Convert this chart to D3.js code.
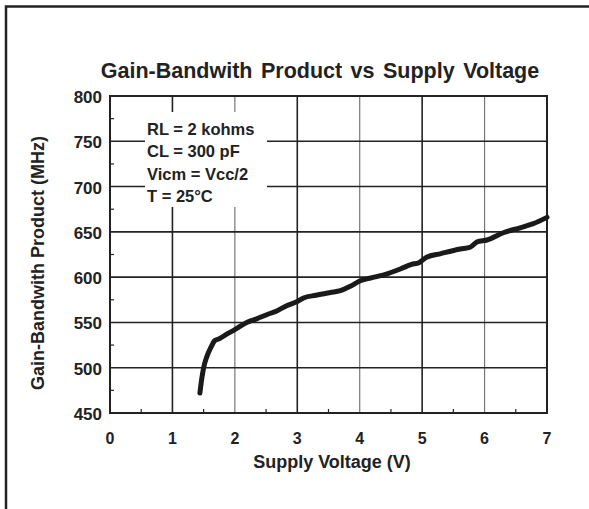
<!DOCTYPE html>
<html>
<head>
<meta charset="UTF-8">
<script src="https://cdn.jsdelivr.net/npm/d3@7"></script>
<style>
  body { margin: 0; background: #fff; }
  text { font-family: "Liberation Sans", Arial, sans-serif; font-weight: bold; fill: #222; }
</style>
</head>
<body>
<script>
// data
var voltage = [1.44, 1.47, 1.50, 1.55, 1.62, 1.68, 1.75, 1.87, 2.00, 2.19, 2.35, 2.51, 2.68, 2.83, 3.00, 3.10, 3.30, 3.53, 3.69, 3.85, 4.01, 4.27, 4.45, 4.65, 4.83, 4.95, 5.07, 5.30, 5.61, 5.77, 5.88, 6.04, 6.30, 6.57, 6.78, 7.00];
var gbw     = [472, 488, 500, 512, 523, 530, 532, 537, 542, 550, 554, 558.5, 563, 568.5, 573, 577, 580, 583, 585, 590, 596, 600.5, 604, 609, 614, 616, 622, 626, 631, 633, 639, 641, 649, 654.5, 659, 666];
var xTicks = [0, 1, 2, 3, 4, 5, 6, 7];
var yTicks = [450, 500, 550, 600, 650, 700, 750, 800];
var notes = ["RL = 2 kohms", "CL = 300 pF", "Vicm = Vcc/2", "T = 25\u00B0C"];

var W = 589, H = 509;
var pLeft = 110, pRight = 547, pTop = 96, pBottom = 413;

var svg = d3.select("body").append("svg")
    .attr("width", W)
    .attr("height", H);

// outer frame (left and top only visible)
svg.append("path")
    .attr("d", "M6," + H + "V6.5H" + W)
    .attr("fill", "none").attr("stroke", "#222").attr("stroke-width", 2.5);

var x = d3.scaleLinear().domain([0, 7]).range([pLeft, pRight]);
var y = d3.scaleLinear().domain([450, 800]).range([pBottom, pTop]);

// grid
svg.append("g").selectAll("line")
    .data(xTicks.slice(1))
    .enter().append("line")
    .attr("x1", function(d) { return x(d); })
    .attr("x2", function(d) { return x(d); })
    .attr("y1", pTop).attr("y2", pBottom)
    .attr("stroke", function(d) { return d % 2 == 0 ? "#777" : "#222"; })
    .attr("stroke-width", function(d) { return d % 2 == 0 ? 1.2 : 1.6; });

svg.append("g").selectAll("line")
    .data(yTicks.slice(1))
    .enter().append("line")
    .attr("x1", pLeft).attr("x2", pRight)
    .attr("y1", function(d) { return y(d); })
    .attr("y2", function(d) { return y(d); })
    .attr("stroke", "#222").attr("stroke-width", 1.6);

// minor ticks
var minorX = d3.range(0.5, 7, 1);
svg.append("g").selectAll("line")
    .data(minorX).enter().append("line")
    .attr("x1", function(d) { return x(d); })
    .attr("x2", function(d) { return x(d); })
    .attr("y1", pBottom).attr("y2", pBottom - 4)
    .attr("stroke", "#222").attr("stroke-width", 1.2);
var minorY = d3.range(475, 800, 50);
svg.append("g").selectAll("line")
    .data(minorY).enter().append("line")
    .attr("x1", pLeft).attr("x2", pLeft + 4)
    .attr("y1", function(d) { return y(d); })
    .attr("y2", function(d) { return y(d); })
    .attr("stroke", "#222").attr("stroke-width", 1.2);

// plot border
svg.append("path")
    .attr("d", "M" + pLeft + "," + pTop + "V" + pBottom + "H" + pRight + "V" + pTop + "Z")
    .attr("fill", "none").attr("stroke", "#222").attr("stroke-width", 2);

// conditions box
svg.append("rect")
    .attr("x", 145).attr("y", 112).attr("width", 122).attr("height", 95)
    .attr("fill", "#fff");
svg.append("g").selectAll("text")
    .data(notes).enter().append("text")
    .attr("x", 147)
    .attr("y", function(d, i) { return 135 + i * 22.3; })
    .attr("font-size", 16.5)
    .text(function(d) { return d; });

// curve
var line = d3.line()
    .x(function(d, i) { return x(voltage[i]); })
    .y(function(d) { return y(d); })
    .curve(d3.curveMonotoneX);
svg.append("path")
    .datum(gbw)
    .attr("d", line)
    .attr("fill", "none")
    .attr("stroke", "#1a1a1a")
    .attr("stroke-width", 5)
    .attr("stroke-linecap", "round");

// tick labels
svg.append("g").selectAll("text")
    .data(xTicks).enter().append("text")
    .attr("x", function(d) { return x(d); })
    .attr("y", 444)
    .attr("text-anchor", "middle")
    .attr("font-size", 16)
    .text(function(d) { return d; });
svg.append("g").selectAll("text")
    .data(yTicks).enter().append("text")
    .attr("x", 102)
    .attr("y", function(d) { return y(d) + 7; })
    .attr("text-anchor", "end")
    .attr("font-size", 17)
    .text(function(d) { return d; });

// titles
svg.append("text")
    .attr("x", 320).attr("y", 78)
    .attr("text-anchor", "middle")
    .attr("font-size", 21.5)
    .attr("word-spacing", 2.5)
    .text("Gain-Bandwith Product vs Supply Voltage");
svg.append("text")
    .attr("x", 332).attr("y", 468)
    .attr("text-anchor", "middle")
    .attr("font-size", 18)
    .text("Supply Voltage (V)");
svg.append("text")
    .attr("transform", "translate(44,263) rotate(-90)")
    .attr("text-anchor", "middle")
    .attr("font-size", 18)
    .text("Gain-Bandwith Product (MHz)");
</script>
</body>
</html>
